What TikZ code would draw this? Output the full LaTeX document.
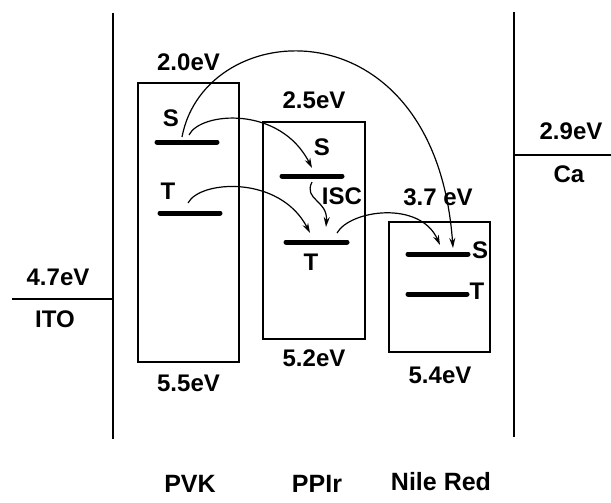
\documentclass[tikz,border=0pt]{standalone}
\usepackage{fontspec}
\setmainfont{Liberation Sans}
\usetikzlibrary{arrows.meta, positioning}

\begin{document}
\begin{tikzpicture}[
    x=1pt, y=-1pt,
    band/.style={rectangle, draw=black, line width=1.3pt, inner sep=0pt},
    level/.style={line width=5pt, line cap=round},
    electrode/.style={line width=1.6pt},
    lbl/.style={font=\bfseries\fontsize{24}{26}\selectfont, inner sep=0pt},
    mat/.style={font=\bfseries\fontsize{25}{28}\selectfont, inner sep=0pt},
    arrow/.style={-{Stealth[length=10pt, width=6pt]}, line width=1.2pt}
]
    \useasboundingbox (0,0) rectangle (611,503);

    % Electrodes
    \draw[electrode] (113,13) -- (113,439);
    \draw[electrode] (12,299) -- (113,299);
    \draw[electrode] (514,12) -- (514,437);
    \draw[electrode] (514,155) -- (611,155);
    \node[lbl] (ito) at (58,277) {4.7eV};
    \node[lbl] (itoname) at (55,319) {ITO};
    \node[lbl] (ca) at (571,131) {2.9eV};
    \node[lbl] (caname) at (569,174) {Ca};

    % Bands
    \node[band, minimum width=101pt, minimum height=279pt] (pvk) at (188.5,222.5) {};
    \node[band, minimum width=102pt, minimum height=217pt] (ppir) at (314,230.5) {};
    \node[band, minimum width=101pt, minimum height=130pt] (nr) at (439.5,287) {};

    \node[lbl, above=11pt of pvk] (pvklumo) {2.0eV};
    \node[lbl, below=12pt of pvk] (pvkhomo) {5.5eV};
    \node[lbl, above=12pt of ppir] (ppirlumo) {2.5eV};
    \node[lbl, below=10pt of ppir] (ppirhomo) {5.2eV};
    \node[lbl] (nrlumo) at (438,197) {3.7 eV};
    \node[lbl] (nrhomo) at (440,375) {5.4eV};

    % Singlet / triplet levels
    \draw[level] (157,142) -- (217,142);
    \draw[level] (160,213) -- (220,213);
    \draw[level] (282,176) -- (342,176);
    \draw[level] (286,242) -- (347,242);
    \draw[level] (408,254) -- (468,254);
    \draw[level] (408,294) -- (467,294);
    \node[lbl] (pvkS) at (171,118) {S};
    \node[lbl] (pvkT) at (168,191) {T};
    \node[lbl] (ppirS) at (322,147) {S};
    \node[lbl] (ppirT) at (311,262) {T};
    \node[lbl] (isc) at (342,196) {ISC};
    \node[lbl] (nrS) at (480,250) {S};
    \node[lbl] (nrT) at (477,291) {T};

    \coordinate (s1a) at (182,137);
    \coordinate (s1b) at (189,135);
    \coordinate (t1) at (188,203);
    \coordinate (s2in) at (312,168);
    \coordinate (s2out) at (312,182);
    \coordinate (t2in) at (310,233);
    \coordinate (t2iscin) at (326,227);
    \coordinate (t2out) at (337,233);
    \coordinate (s3a) at (440,245);
    \coordinate (s3b) at (453,248);

    % Transfers
    \draw[arrow] (s1a) .. controls (205,15) and (435,0) .. (s3b);
    \draw[arrow] (s1b) .. controls (200,112) and (280,105) .. (s2in);
    \draw[arrow] (t1) .. controls (200,180) and (280,175) .. (t2in);
    \draw[arrow] (s2out) .. controls (303,200) and (328,200) .. (t2iscin);
    \draw[arrow] (t2out) .. controls (350,210) and (420,200) .. (s3a);

    % Materials
    \node[mat] (pvkname) at (190,484) {PVK};
    \node[mat] (ppirname) at (317,484) {PPIr};
    \node[mat] (nrname) at (441,482) {Nile Red};
\end{tikzpicture}
\end{document}
